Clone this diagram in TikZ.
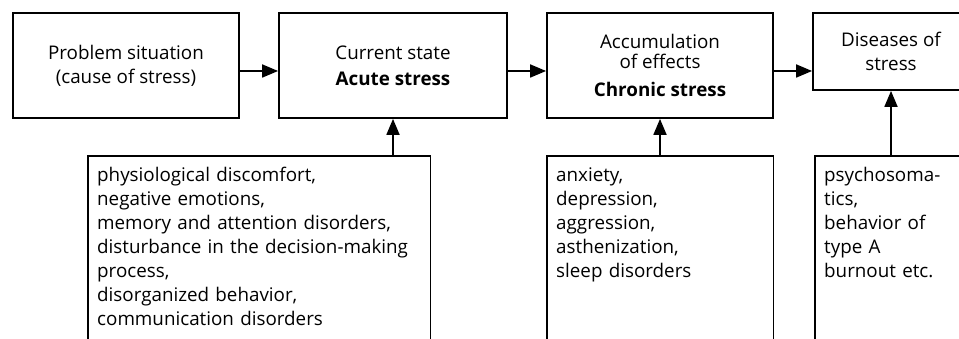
\documentclass[tikz,border=0pt]{standalone}
\usepackage{fontspec}
\setmainfont{Open Sans}
\usetikzlibrary{arrows.meta}

\tikzset{
  stagebox/.style={draw, line width=1.8pt, align=center, inner sep=0pt,
    font=\fontsize{18.8}{24}\selectfont},
  listbox/.style={anchor=north west, align=left, inner xsep=9pt, inner ysep=9pt,
    font=\fontsize{18.8}{24}\selectfont, execute at begin node=\strut},
  arr/.style={-{Triangle[length=16pt,width=13pt]}, line width=1.8pt}
}

\begin{document}
\begin{tikzpicture}[x=1pt, y=-1pt]

% Frame
\path[use as bounding box, clip] (0,0) rectangle (959,339);

% Stages
\node[stagebox, minimum width=226pt, minimum height=105pt] (problem) at (126,65.5)
  {Problem situation\\(cause of stress)};
\node[stagebox, minimum width=228pt, minimum height=105pt] (acute) at (393,65.5)
  {Current state\\[2pt]\textbf{Acute stress}};
\node[stagebox, minimum width=226pt, minimum height=105pt] (chronic) at (660,65.5)
  {Accumulation\\[-4pt]of effects\\[4pt]\textbf{Chronic stress}};
\node[stagebox, minimum width=156pt, minimum height=77pt] (diseases) at (891,51.5)
  {Diseases of\\stress};

% Arrows between stages
\draw[arr] ([yshift=-5.5pt]problem.east) -- ([yshift=-5.5pt]acute.west);
\draw[arr] ([yshift=-5.5pt]acute.east) -- ([yshift=-5.5pt]chronic.west);
\draw[arr] ([yshift=-5.5pt]chronic.east) -- ([yshift=-5.5pt]chronic.east -| diseases.west);

% Effects (open at the bottom)
\node[listbox, text width=324pt] (acutefx) at (88,156)
  {physiological discomfort,\\negative emotions,\\memory and attention disorders,\\
   \mbox{disturbance in the decision-making}\\process,\\disorganized behavior,\\communication disorders};
\node[listbox, text width=208pt] (chronicfx) at (547,156)
  {anxiety,\\depression,\\aggression,\\asthenization,\\sleep disorders};
\node[listbox, text width=134pt] (diseasefx) at (815,156)
  {psychosoma-\\tics,\\behavior of\\type A\\burnout etc.};

\foreach \fx in {acutefx, chronicfx, diseasefx}
  \draw[line width=1.8pt] ([yshift=-250pt]\fx.north west) -- (\fx.north west)
    -- (\fx.north east) -- ++(0,250);

% Effects feeding the stages
\draw[arr] (acutefx.north -| acute.south) -- (acute.south);
\draw[arr] (chronicfx.north -| chronic.south) -- (chronic.south);
\draw[arr] (diseasefx.north -| diseases.south) -- (diseases.south);

\end{tikzpicture}
\end{document}
